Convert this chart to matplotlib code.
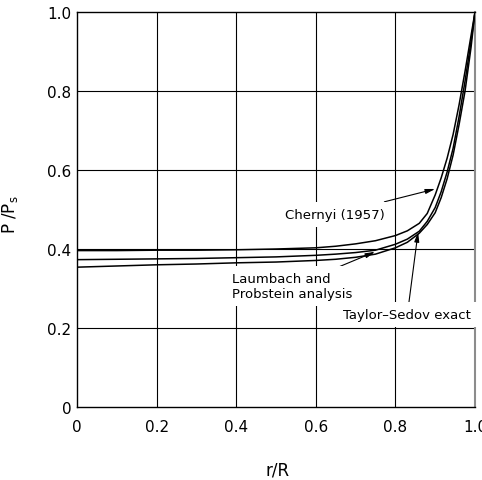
import numpy as np
import matplotlib
matplotlib.use('Agg')
import matplotlib.pyplot as plt

plt.rcParams['font.family'] = 'DejaVu Sans'

# r/R positions and p/ps values
r = [0, 0.1, 0.2, 0.3, 0.4, 0.5, 0.6, 0.65, 0.7, 0.75, 0.8, 0.83, 0.86,
     0.88, 0.9, 0.915, 0.93, 0.945, 0.96, 0.975, 0.99, 1.0]
chernyi = [0.396, 0.396, 0.397, 0.397, 0.398, 0.400, 0.403, 0.407, 0.413,
           0.421, 0.434, 0.446, 0.465, 0.490, 0.537, 0.580, 0.630, 0.690,
           0.765, 0.850, 0.940, 1.0]
laumbach = [0.373, 0.374, 0.375, 0.376, 0.378, 0.380, 0.384, 0.387, 0.391,
            0.397, 0.412, 0.425, 0.445, 0.470, 0.505, 0.545, 0.595, 0.655,
            0.735, 0.825, 0.925, 1.0]
taylor = [0.354, 0.357, 0.360, 0.362, 0.365, 0.367, 0.371, 0.374, 0.379,
          0.387, 0.403, 0.417, 0.440, 0.462, 0.492, 0.530, 0.578, 0.638,
          0.715, 0.800, 0.910, 1.0]

ticks = [0, 0.2, 0.4, 0.6, 0.8, 1.0]
xticklabels = ['0', '0.2', '0.4', '0.6', '0.8', '1.0']
yticklabels = ['0', '0.2', '0.4', '0.6', '0.8', '1.0']

fig = plt.figure(figsize=(4.82, 4.81), dpi=100)
ax = fig.add_axes([77/482, 1-408/481, 398/482, 395/481])

for t in ticks[1:-1]:
    ax.axvline(t, color='k', lw=0.8, zorder=1)
    ax.axhline(t, color='k', lw=0.8, zorder=1)

ax.plot(r, chernyi, 'k', lw=1.1, zorder=3)
ax.plot(r, laumbach, 'k', lw=1.1, zorder=3)
ax.plot(r, taylor, 'k', lw=1.1, zorder=3)

box = dict(boxstyle='square,pad=0.45', fc='white', ec='none')
arr = dict(arrowstyle='-|>,head_length=0.6,head_width=0.15', color='k', lw=0.8,
           shrinkA=0, shrinkB=0)
fs = 9.5

ax.annotate('Chernyi (1957)', xy=(0.9, 0.552), xytext=(0.774, 0.488),
            ha='right', va='center', fontsize=fs, bbox=box, arrowprops=arr,
            zorder=4)
ax.annotate('Laumbach and\nProbstein analysis', xy=(0.749, 0.393),
            xytext=(0.693, 0.306), ha='right', va='center', fontsize=fs,
            multialignment='left', linespacing=1.15, bbox=box,
            arrowprops=arr, zorder=4)
ax.annotate('Taylor\u2013Sedov exact', xy=(0.857, 0.443), xytext=(0.830, 0.234),
            ha='center', va='center', fontsize=fs, bbox=box, arrowprops=arr,
            zorder=4)

ax.set_xlim(0, 1)
ax.set_ylim(0, 1)
ax.set_xticks(ticks)
ax.set_xticklabels(xticklabels)
ax.set_yticks(ticks)
ax.set_yticklabels(yticklabels)
ax.tick_params(length=0, labelsize=11)
ax.tick_params(axis='x', pad=9)
ax.tick_params(axis='y', pad=4)
for s in ax.spines.values():
    s.set_linewidth(1.0)
ax.spines['right'].set_color('0.55')
ax.spines['right'].set_linewidth(1.5)

ax.set_xlabel('r/R', fontsize=12)
ax.set_ylabel('P /P$_\\mathregular{s}$', fontsize=12)
ax.xaxis.set_label_coords(0.503, -0.135)
ax.yaxis.set_label_coords(-0.143, 0.489)

fig.savefig('out.png', dpi=100)
